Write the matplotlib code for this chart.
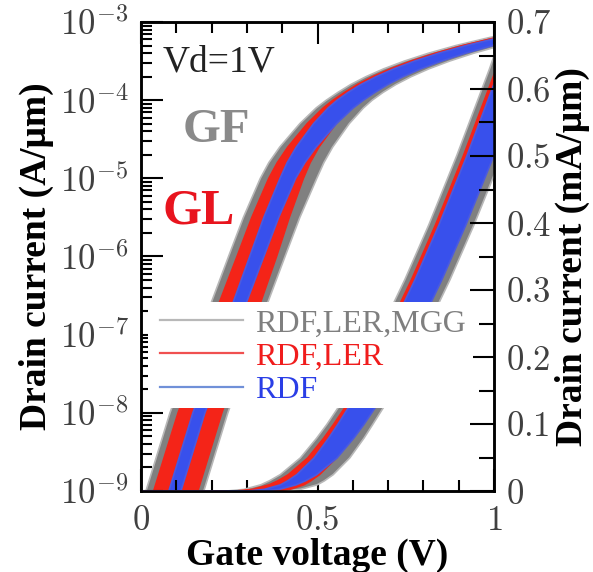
import numpy as np
import matplotlib
matplotlib.use("Agg")
import matplotlib.pyplot as plt
from matplotlib.ticker import MultipleLocator, LogLocator, FuncFormatter, NullFormatter
from matplotlib.lines import Line2D
from matplotlib.patches import Rectangle

plt.rcParams['font.family'] = 'serif'
plt.rcParams['font.serif'] = ['Liberation Serif', 'DejaVu Serif']
plt.rcParams['mathtext.fontset'] = 'cm'

# current levels (log10 of A/um) and the gate voltage of the middle of the bundle
log_current = [-10.5, -10, -9, -8, -7, -6, -5.5, -5, -4.8, -4.6, -4.3, -4.1, -4.0,
               -3.9, -3.8, -3.7, -3.6, -3.5, -3.4, -3.3, -3.2, -3.1]
vg_center = [-0.01, 0.027, 0.096, 0.164, 0.245, 0.328, 0.37, 0.418, 0.44, 0.468, 0.52, 0.563, 0.59,
             0.622, 0.658, 0.701, 0.751, 0.81, 0.878, 0.957, 1.05, 1.157]

# spread of each bundle around the middle curve (V), left / right
gray_lo = [-0.082, -0.082, -0.082, -0.082, -0.080, -0.080, -0.080, -0.080, -0.078, -0.075, -0.070,
           -0.067, -0.065, -0.064, -0.064, -0.064, -0.064, -0.064, -0.064, -0.064, -0.064, -0.064]
gray_hi = [0.082, 0.082, 0.082, 0.082, 0.080, 0.080, 0.080, 0.080, 0.078, 0.075, 0.070,
           0.067, 0.065, 0.064, 0.064, 0.064, 0.064, 0.064, 0.064, 0.064, 0.064, 0.064]
red_lo = [-0.060, -0.060, -0.060, -0.059, -0.058, -0.056, -0.056, -0.056, -0.054, -0.052, -0.049,
          -0.047, -0.046, -0.045, -0.045, -0.045, -0.045, -0.045, -0.045, -0.045, -0.045, -0.045]
red_hi = [0.065, 0.065, 0.065, 0.065, 0.062, 0.056, 0.050, 0.042, 0.039, 0.036, 0.032,
          0.030, 0.030, 0.030, 0.030, 0.030, 0.030, 0.030, 0.030, 0.030, 0.030, 0.030]
blue_lo = [-0.017, -0.017, -0.017, -0.017, -0.017, -0.020, -0.022, -0.024, -0.026, -0.028, -0.031,
           -0.033, -0.034, -0.035, -0.035, -0.035, -0.035, -0.035, -0.035, -0.035, -0.035, -0.035]
blue_hi = [0.017, 0.017, 0.017, 0.017, 0.019, 0.020, 0.020, 0.020, 0.024, 0.028, 0.034,
           0.038, 0.040, 0.041, 0.041, 0.041, 0.041, 0.041, 0.041, 0.041, 0.041, 0.041]

legend_labels = ["RDF,LER,MGG", "RDF,LER", "RDF"]

current = 10 ** np.array(log_current)
vc = np.array(vg_center)
bundles = [
    (gray_lo, gray_hi, '#808080', '#b8b8b8'),
    (red_lo, red_hi, '#f42418', '#f42418'),
    (blue_lo, blue_hi, '#3850ec', '#4a5ae0'),
]

fig = plt.figure(figsize=(5.93, 5.72), dpi=100)
ax = fig.add_axes([141 / 593, 1 - 491 / 572, 353 / 593, 469 / 572])
ax2 = ax.twinx()

for lo, hi, col, edge in bundles:
    x1 = vc + np.array(lo)
    x2 = vc + np.array(hi)
    ax.fill_betweenx(current, x1, x2, facecolor=col, edgecolor=edge, lw=1.2)
    ax2.fill_betweenx(current * 1e3, x1, x2, facecolor=col, edgecolor=edge, lw=1.2)

ax.set_yscale('log')
ax.set_xlim(0, 1)
ax.set_ylim(1e-9, 1e-3)
ax2.set_ylim(0, 0.7)

ax.xaxis.set_major_locator(MultipleLocator(0.5))
ax.xaxis.set_minor_locator(MultipleLocator(0.1))
ax.xaxis.set_major_formatter(FuncFormatter(lambda v, p: '$%g$' % v))
ax.yaxis.set_major_locator(LogLocator(base=10, numticks=10))
ax.yaxis.set_minor_locator(LogLocator(base=10, subs=np.arange(2, 10), numticks=20))
ax.yaxis.set_minor_formatter(NullFormatter())
ax.yaxis.set_major_formatter(FuncFormatter(lambda v, p: '$10^{%d}$' % round(np.log10(v))))
ax2.yaxis.set_major_locator(MultipleLocator(0.1))
ax2.yaxis.set_minor_locator(MultipleLocator(0.05))
ax2.yaxis.set_major_formatter(FuncFormatter(lambda v, p: '$%g$' % round(v, 2)))

tick_col = '#404040'
ax.tick_params(axis='x', which='both', direction='in', top=True, width=1.5, colors='black',
               labelcolor=tick_col, labelsize=25, pad=10)
ax.tick_params(axis='x', which='major', length=16)
ax.tick_params(axis='x', which='minor', length=8)
ax.tick_params(axis='y', which='both', direction='in', width=1.5, labelcolor=tick_col,
               labelsize=25, pad=9)
ax.tick_params(axis='y', which='major', length=16)
ax.tick_params(axis='y', which='minor', length=8)
ax2.tick_params(axis='y', which='both', direction='in', width=1.5, labelcolor=tick_col,
                labelsize=25, pad=9)
ax2.tick_params(axis='y', which='major', length=17)
ax2.tick_params(axis='y', which='minor', length=11)
for a in (ax, ax2):
    for s in a.spines.values():
        s.set_linewidth(1.8)

ax.set_xlabel('Gate voltage (V)', fontsize=27, fontweight='bold', labelpad=0)
ax.set_ylabel('Drain current (A/μm)', fontsize=27, fontweight='bold', labelpad=4)
ax2.set_ylabel('Drain current (mA/μm)', fontsize=27, fontweight='bold', labelpad=2)

# white box behind the legend hides the curves there
ax2.add_patch(Rectangle((0.02, 0.177), 0.92, 0.226, transform=ax2.transAxes,
                        facecolor='white', edgecolor='none', zorder=3))
handles = [Line2D([], [], color=c, lw=1.6) for c in ['#b8b8b8', '#f05050', '#7090d8']]
ax2.legend(handles, legend_labels, loc='center left', bbox_to_anchor=(0.055, 0.286),
           frameon=False, fontsize=23, handlelength=2.6, handletextpad=0.35,
           labelspacing=0.12, borderpad=0, borderaxespad=0,
           labelcolor=['#7f7f7f', '#f01c1c', '#2a3ee6'])

ax2.text(0.062, 0.915, 'Vd=1V', transform=ax2.transAxes, fontsize=27, va='center',
         color='#222222')
ax2.text(0.119, 0.77, 'GF', transform=ax2.transAxes, fontsize=35, fontweight='bold',
         va='center', color='#8a8a8a')
ax2.text(0.062, 0.597, 'GL', transform=ax2.transAxes, fontsize=36, fontweight='bold',
         va='center', color='#e8141e')

fig.savefig('out.png', dpi=100)
